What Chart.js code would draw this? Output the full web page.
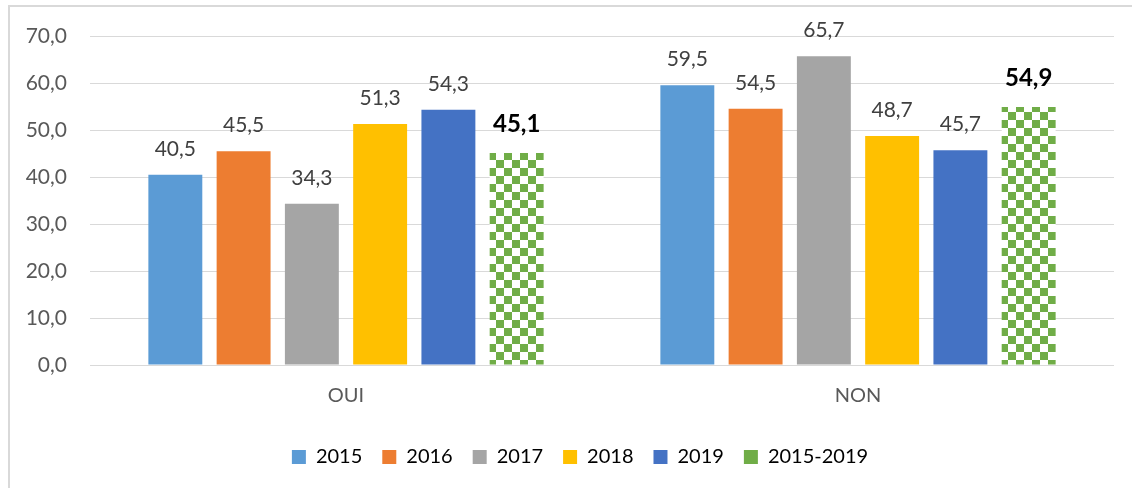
<!DOCTYPE html>
<html>
<head>
<meta charset="utf-8">
<script src="https://cdn.jsdelivr.net/npm/chart.js@4"></script>
<style>
  html, body { margin: 0; padding: 0; background: #fff; }
  #wrap { position: relative; width: 1132px; height: 488px; }
</style>
</head>
<body>
<div id="wrap"><canvas id="chart" width="1132" height="488"></canvas></div>
<script>
const categories = ['OUI', 'NON'];
const seriesNames = ['2015', '2016', '2017', '2018', '2019', '2015-2019'];
const values2015 = [40.5, 59.5];
const values2016 = [45.5, 54.5];
const values2017 = [34.3, 65.7];
const values2018 = [51.3, 48.7];
const values2019 = [54.3, 45.7];
const values2015to2019 = [45.1, 54.9];
const yTicks = [0, 10, 20, 30, 40, 50, 60, 70];

const FONT = 'Lato, "Open Sans", sans-serif';
const GREEN = '#70AD47';

/** Builds the green/white checkerboard used for the 2015-2019 bars */
function makeChecker(ctx) {
  const tile = document.createElement('canvas');
  tile.width = 16;
  tile.height = 16;
  const t = tile.getContext('2d');
  t.fillStyle = '#fff';
  t.fillRect(0, 0, 16, 16);
  t.fillStyle = GREEN;
  t.fillRect(0, 0, 8, 8);
  t.fillRect(8, 8, 8, 8);
  return ctx.createPattern(tile, 'repeat');
}

function fmt(v) {
  return v.toFixed(1).replace('.', ',');
}

// draws the value above each bar, bold for the combined period
const valueLabels = {
  id: 'valueLabels',
  afterDatasetsDraw(chart) {
    const ctx = chart.ctx;
    ctx.save();
    ctx.textAlign = 'center';
    ctx.textBaseline = 'alphabetic';
    chart.data.datasets.forEach((ds, i) => {
      const meta = chart.getDatasetMeta(i);
      const last = i === chart.data.datasets.length - 1;
      ctx.font = last ? `bold 24px ${FONT}` : `21px ${FONT}`;
      ctx.fillStyle = last ? '#000' : '#404040';
      meta.data.forEach((bar, j) => {
        ctx.fillText(fmt(ds.data[j]), bar.x, bar.y - (last ? 21 : 19));
      });
    });
    ctx.restore();
  }
};

// light frame of the chart area (cut by the picture edges)
const frame = {
  id: 'frame',
  beforeDraw(chart) {
    const ctx = chart.ctx;
    ctx.save();
    ctx.fillStyle = '#fff';
    ctx.fillRect(0, 0, chart.width, chart.height);
    ctx.strokeStyle = '#D9D9D9';
    ctx.lineWidth = 2;
    ctx.beginPath();
    ctx.moveTo(9, chart.height + 5);
    ctx.lineTo(9, 6);
    ctx.lineTo(chart.width + 5, 6);
    ctx.stroke();
    ctx.restore();
  }
};

// the legend sits a little right of the canvas centre in the original
const legendShift = {
  id: 'legendShift',
  afterLayout(chart) {
    chart.legend.left += 23;
    chart.legend.right += 23;
  }
};

const ctx = document.getElementById('chart').getContext('2d');
const checker = makeChecker(ctx);
const colors = ['#5B9BD5', '#ED7D31', '#A5A5A5', '#FFC000', '#4472C4', checker];
const allValues = [values2015, values2016, values2017, values2018, values2019, values2015to2019];

new Chart(ctx, {
  type: 'bar',
  data: {
    labels: categories,
    datasets: seriesNames.map((name, i) => ({
      label: name,
      data: allValues[i],
      backgroundColor: colors[i],
      borderWidth: 0,
      categoryPercentage: 0.8,
      barPercentage: 0.79
    }))
  },
  options: {
    responsive: false,
    animation: false,
    layout: { padding: { top: 36, right: 18, bottom: 11, left: 0 } },
    plugins: {
      tooltip: { enabled: false },
      legend: {
        position: 'bottom',
        labels: {
          boxWidth: 14,
          boxHeight: 14,
          padding: 20,
          color: '#595959',
          font: { family: FONT, size: 20 },
          generateLabels(chart) {
            return chart.data.datasets.map((ds, i) => ({
              text: ds.label,
              fillStyle: i === 5 ? GREEN : ds.backgroundColor,
              strokeStyle: 'rgba(0,0,0,0)',
              lineWidth: 0,
              datasetIndex: i
            }));
          }
        }
      }
    },
    scales: {
      x: {
        grid: { display: false, drawTicks: false },
        border: { display: false },
        ticks: { color: '#595959', padding: 11, font: { family: FONT, size: 20, lineHeight: 2 } }
      },
      y: {
        min: 0,
        max: 70,
        afterFit(scale) { scale.width = 90; },
        afterBuildTicks(scale) { scale.ticks = yTicks.map(v => ({ value: v })); },
        grid: { color: '#D9D9D9', lineWidth: 1, drawTicks: false },
        border: { display: false },
        ticks: {
          color: '#595959',
          padding: 23,
          font: { family: FONT, size: 21 },
          callback: v => fmt(v)
        }
      }
    }
  },
  plugins: [frame, legendShift, valueLabels]
});
</script>
</body>
</html>
